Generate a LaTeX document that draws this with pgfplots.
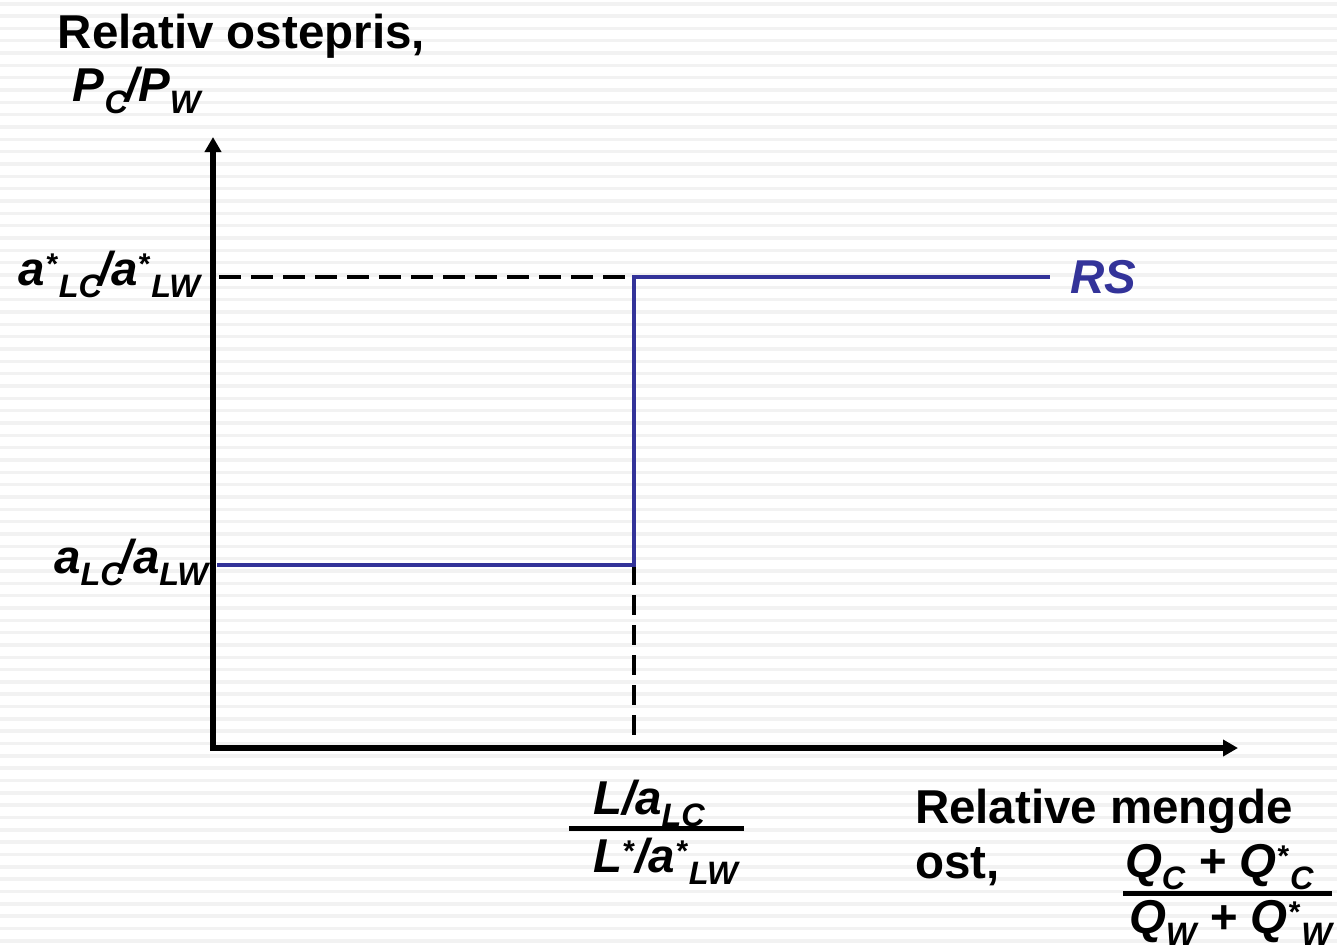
\documentclass[border=0pt]{standalone}
\usepackage{pgfplots}
\pgfplotsset{compat=1.18}
\usetikzlibrary{arrows.meta}
\usepackage{fontspec}
\setmainfont{Liberation Sans}
\definecolor{rsblue}{RGB}{51,51,153}
\definecolor{stripe}{RGB}{242,242,242}
\newcommand\lab{\fontsize{23.75}{28}\selectfont\bfseries}
\newcommand\sub[1]{\raisebox{-6pt}{\fontsize{16.2}{17}\selectfont #1}}
\newcommand\st{\raisebox{5.5pt}{\fontsize{15}{16}\selectfont *}\kern1pt}
\begin{document}
\begin{tikzpicture}[x=0.5pt,y=0.5pt]
\useasboundingbox (-213,-202) rectangle (1124,748);
\foreach \i in {0,...,77}{
  \fill[stripe] (-213,{746-\i*12.33}) rectangle ++(1337,-3.5);
}
\begin{axis}[
  at={(0,0)}, anchor=origin,
  scale only axis, width=512.5pt, height=305.5pt,
  xmin=0, xmax=1025, ymin=0, ymax=611,
  hide axis, clip=false]
\draw[line width=3pt, {Triangle[length=7.5pt,width=8pt]}-{Triangle[length=7.5pt,width=8pt]}]
  (axis cs:0,611) -- (axis cs:0,0) -- (axis cs:1025,0);
\addplot[black, line width=2pt, dash pattern=on 11pt off 5pt] coordinates {(6,471) (421,471)};
\addplot[black, line width=2pt, dash pattern=on 10pt off 5pt] coordinates {(421,183) (421,0)};
\addplot[rsblue, line width=2.2pt] coordinates {(4,183) (421,183) (421,471) (837,471)};
\end{axis}
\begin{scope}[every node/.style={inner sep=0pt, outer sep=0pt}]
\node[anchor=base west] at (-155,700) {\lab Relativ ostepris,};
\node[anchor=base west] at (-140,647) {\lab\itshape P\sub{C}\kern-1.5pt/P\sub{W}};
\node[anchor=base east] at (-13,463) {\lab\itshape a\st\sub{LC}\kern-2pt/a\st\sub{LW}};
\node[anchor=base east] at (-5,175) {\lab\itshape a\sub{LC}\kern-2pt/a\sub{LW}};
\node[anchor=base west] at (380,-66) {\lab\itshape L/a\sub{LC}};
\draw[line width=2.5pt] (356,-80) -- (531,-80);
\node[anchor=base west] at (380,-124) {\lab\itshape L\st/a\st\sub{LW}};
\node[anchor=base west] at (702,-75) {\lab Relative mengde};
\node[anchor=base west] at (702,-130) {\lab ost,};
\node[anchor=base west] at (912,-129) {\lab\itshape Q\sub{C} + Q\st\sub{C}};
\draw[line width=2.5pt] (910,-145) -- (1119,-145);
\node[anchor=base west] at (916,-185) {\lab\itshape Q\sub{W} + Q\st\sub{W}};
\node[anchor=base west, text=rsblue] at (857,455) {\lab\itshape RS};
\end{scope}
\end{tikzpicture}
\end{document}
